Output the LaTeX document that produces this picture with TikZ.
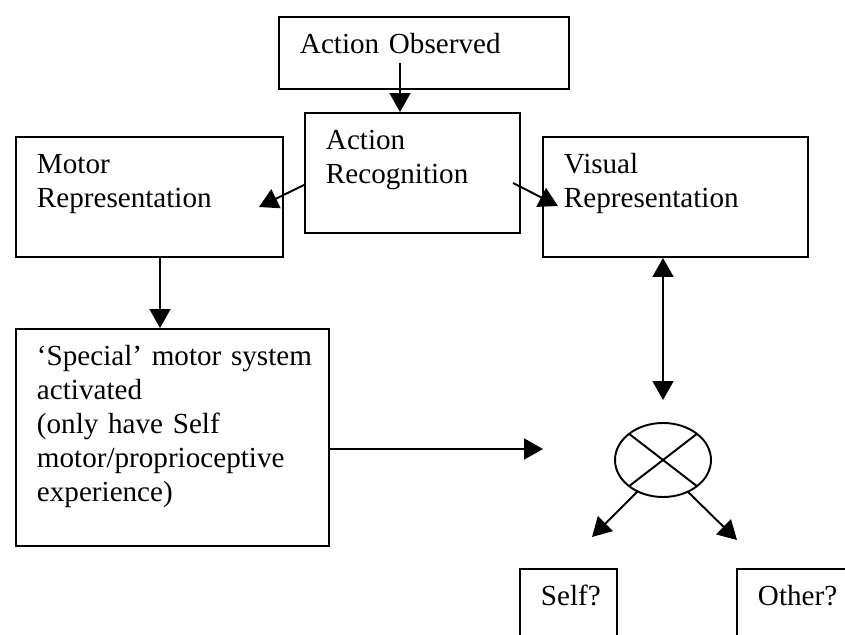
\documentclass[tikz,border=0pt]{standalone}
\usepackage{fontspec}
\setmainfont{Liberation Serif}
\usetikzlibrary{arrows.meta, positioning, shapes.geometric, calc}

\begin{document}
\begin{tikzpicture}[x=0.412pt, y=-0.412pt,
    box/.style={draw, line width=0.8pt, anchor=north west, inner xsep=8.65pt, inner ysep=0pt,
      align=left, text height=15.25pt, font=\fontsize{12pt}{14pt}\selectfont},
    arr/.style={-{Triangle[length=7.8pt, width=8.6pt]}, line width=0.8pt},
    dblarr/.style={{Triangle[length=7.8pt, width=8.6pt]}-{Triangle[length=7.8pt, width=8.6pt]}, line width=0.8pt}]
  \useasboundingbox (0,0) rectangle (845,635);
  \clip (0,0) rectangle (845,635);

  % boxes
  \node[box, text width=102.2pt, text depth=14.4pt] (obs) at (278,16) {Action Observed};
  \node[box, text width=71.3pt, text depth=34.2pt] (recog) at (304,112) {Action\\Recognition};
  \node[box, text width=92.7pt, text depth=34.2pt] (motor) at (15,136) {Motor\\Representation};
  \node[box, text width=91.9pt, text depth=34.2pt] (visual) at (542,136) {Visual\\Representation};
  \node[box, text width=111.7pt, text depth=74.2pt] (special) at (15,328)
    {\mbox{‘Special’ motor system}\\activated\\(only have Self\\\mbox{motor/proprioceptive}\\experience)};
  \node[box, text width=22.7pt, text depth=41.2pt] (self) at (519,568) {\mbox{Self?}};
  \node[box, text width=65.1pt, text depth=41.2pt] (other) at (736,568) {Other?};

  % comparator
  \node[draw, ellipse, line width=0.8pt, minimum width=39.55pt, minimum height=30.5pt,
    inner sep=0pt, outer sep=0pt] (xor) at (663,460) {};
  \draw[line width=0.8pt] (xor.north west) -- (xor.south east);
  \draw[line width=0.8pt] (xor.north east) -- (xor.south west);

  % arrows
  \coordinate (obsout) at (400,63);
  \coordinate (mtip) at (259,207);
  \coordinate (vtip) at (558,206);
  \coordinate (xin) at (543,449);
  \coordinate (xtop) at (663,400);
  \coordinate (selfin) at (592,537);
  \coordinate (otherin) at (737,540);

  \draw[arr] (obsout) -- (obsout |- recog.north);
  \draw[arr] (recog.west |- 0,185) -- (mtip);
  \draw[arr] (513,183) -- (vtip);
  \draw[arr] (motor.south -| 160,0) -- (special.north -| 160,0);
  \draw[arr] (special.east |- xin) -- (xin);
  \draw[dblarr] (visual.south -| xtop) -- (xtop);
  \draw[arr] (xor.231) -- (selfin);
  \draw[arr] (xor.308) -- (otherin);
\end{tikzpicture}
\end{document}
